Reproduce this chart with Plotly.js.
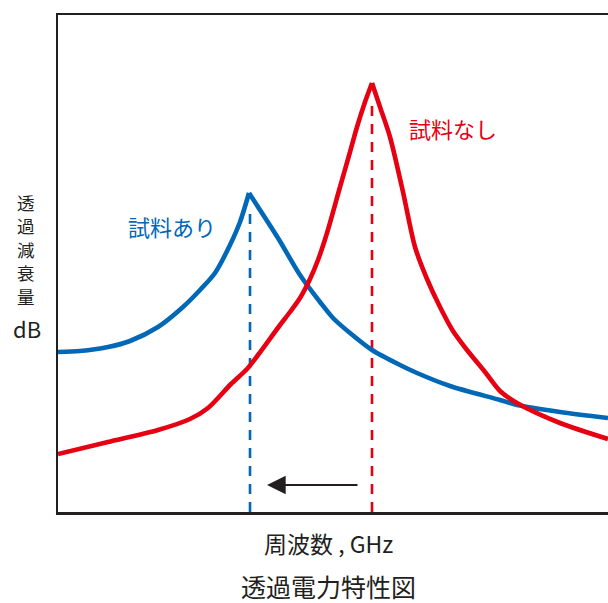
<!DOCTYPE html>
<html>
<head>
<meta charset="utf-8">
<script src="https://cdn.plot.ly/plotly-3.0.1.min.js"></script>
<style>html,body{margin:0;padding:0;background:#fff;}#chart{width:608px;height:603px;}</style>
</head>
<body>
<div id="chart"></div>
<script>
// Frequency (arbitrary units) and transmission attenuation (arbitrary units)
var freqWith = [58, 80, 108, 130, 158, 183, 200, 215, 230, 240, 249, 278, 300, 320, 333, 350, 372, 400, 417, 450, 500, 517, 560, 608];
var attWith  = [160, 161, 165, 171, 185, 205, 222, 239, 267, 290, 319, 274, 237, 210, 194, 179, 162, 147, 139, 126, 112, 107, 100, 94];

var freqWithout = [58, 108, 158, 190, 208, 231, 247, 258, 280, 290, 300, 310, 318, 327, 340, 350, 357, 365, 372, 380, 390, 403, 415, 427, 440, 453, 467, 485, 500, 517, 560, 608];
var attWithout  = [58, 70, 82, 93, 104, 128, 143, 157, 187, 200, 214, 233, 252, 279, 325, 360, 385, 410, 429, 405, 375, 320, 265, 233, 205, 181, 162, 140, 121, 109, 89, 73];

var peakFreq = [250, 372];
var dashTop = [300, 410];
var arrowFrom = 359, arrowTo = 267, arrowLevel = 27;

var labelWith = '試料あり', labelWithout = '試料なし';
var xTitle = '周波数 , GHz';
var yTitleChars = ['透', '過', '減', '衰', '量'];
var yUnit = 'dB';
var chartTitle = '透過電力特性図';

var BLUE = '#0068b7', RED = '#e60012', INK = '#231f20';
var FONT = '"Noto Sans CJK JP", "Noto Sans", sans-serif';

function peakIndex(arr) {
  var k = 0;
  for (var i = 1; i < arr.length; i++) if (arr[i] > arr[k]) k = i;
  return k;
}
function splitCurve(xs, ys, color) {
  var k = peakIndex(ys);
  var base = {mode: 'lines', line: {color: color, width: 4.6, shape: 'spline', smoothing: 0.8}, hoverinfo: 'skip'};
  return [
    Object.assign({}, base, {x: xs.slice(0, k + 1), y: ys.slice(0, k + 1)}),
    Object.assign({}, base, {x: xs.slice(k), y: ys.slice(k)})
  ];
}

var traces = [
  {x: [peakFreq[0], peakFreq[0]], y: [0, dashTop[0]], mode: 'lines', line: {color: BLUE, width: 2.6, dash: '10px,8px'}, hoverinfo: 'skip'},
  {x: [peakFreq[1], peakFreq[1]], y: [0, dashTop[1]], mode: 'lines', line: {color: RED, width: 2.6, dash: '10px,8px'}, hoverinfo: 'skip'}
].concat(splitCurve(freqWith, attWith, BLUE)).concat(splitCurve(freqWithout, attWithout, RED));

var annotations = [
  {x: 453, y: 384, xref: 'x', yref: 'y', text: labelWithout, showarrow: false, font: {family: FONT, size: 22, color: RED}},
  {x: 172, y: 286, xref: 'x', yref: 'y', text: labelWith, showarrow: false, font: {family: FONT, size: 22, color: BLUE}},
  {x: arrowTo, y: arrowLevel, ax: arrowFrom, ay: arrowLevel, xref: 'x', yref: 'y', axref: 'x', ayref: 'y',
   text: '', showarrow: true, arrowhead: 2, arrowsize: 1.7, arrowwidth: 2.2, arrowcolor: INK},
  {x: 0.491, y: (512 - 543) / 497, xref: 'paper', yref: 'paper', xanchor: 'center', yanchor: 'middle',
   text: xTitle, showarrow: false, font: {family: FONT, size: 23, color: INK}},
  {x: 0.491, y: (512 - 586) / 497, xref: 'paper', yref: 'paper', xanchor: 'center', yanchor: 'middle', borderpad: 0,
   text: chartTitle, showarrow: false, font: {family: FONT, size: 25, color: INK}},
  {x: (27 - 58) / 550, y: (512 - 328) / 497, xref: 'paper', yref: 'paper', xanchor: 'center', yanchor: 'middle', borderpad: 0,
   text: yUnit, showarrow: false, font: {family: FONT, size: 22, color: INK}}
];
yTitleChars.forEach(function (ch, i) {
  var py = 202 + i * 23.6;
  annotations.push({x: (26 - 58) / 550, y: (512 - py) / 497, xref: 'paper', yref: 'paper', xanchor: 'center', yanchor: 'middle',
    borderpad: 0, text: ch, showarrow: false, font: {family: FONT, size: 17.5, color: INK}});
});

var layout = {
  width: 608, height: 603,
  margin: {l: 58, r: 0, t: 15, b: 91},
  paper_bgcolor: '#fff', plot_bgcolor: '#fff',
  showlegend: false,
  xaxis: {range: [58, 608], showgrid: false, zeroline: false, showticklabels: false, ticks: '',
          showline: true, linecolor: INK, linewidth: 2.5, mirror: true},
  yaxis: {range: [0, 497], showgrid: false, zeroline: false, showticklabels: false, ticks: '',
          showline: true, linecolor: INK, linewidth: 2.5, mirror: false},
  annotations: annotations
};

Plotly.newPlot('chart', traces, layout, {staticPlot: true, displayModeBar: false});
</script>
</body>
</html>
